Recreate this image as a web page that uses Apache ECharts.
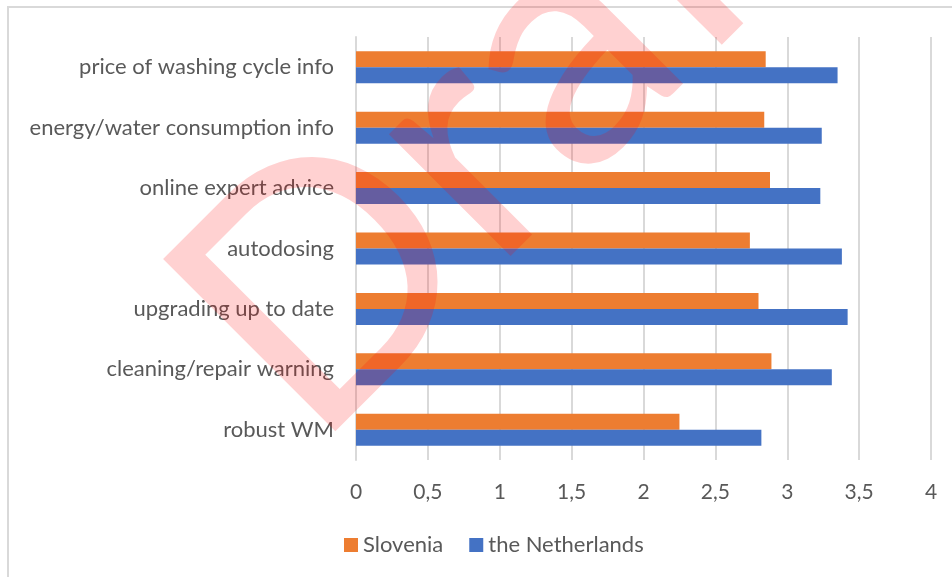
<!DOCTYPE html>
<html>
<head>
<meta charset="utf-8">
<script src="https://cdn.jsdelivr.net/npm/echarts@6/dist/echarts.min.js"></script>
<style>
  html, body { margin: 0; padding: 0; background: #ffffff; }
  #chart { width: 952px; height: 577px; }
</style>
</head>
<body>
<div id="chart"></div>
<script>
// Categories listed bottom to top (category axis runs upward)
const categories = [
  'robust WM',
  'cleaning/repair warning',
  'upgrading up to date',
  'autodosing',
  'online expert advice',
  'energy/water consumption info',
  'price of washing cycle info'
];
const slovenia = [2.25, 2.89, 2.80, 2.74, 2.88, 2.84, 2.85];
const netherlands = [2.82, 3.31, 3.42, 3.38, 3.23, 3.24, 3.35];
const xTicks = [0, 0.5, 1, 1.5, 2, 2.5, 3, 3.5, 4];

const FONT = 'Lato, "Open Sans", sans-serif';
const TEXT_COLOR = '#595959';

const chart = echarts.init(document.getElementById('chart'), null, { renderer: 'canvas' });

chart.setOption({
  animation: false,
  backgroundColor: '#ffffff',
  textStyle: { fontFamily: FONT },
  grid: { left: 356, right: 21, top: 37, bottom: 117, containLabel: false },
  legend: {
    data: ['Slovenia', 'the Netherlands'],
    left: 339,
    top: 529,
    icon: 'rect',
    itemWidth: 14,
    itemHeight: 14,
    itemGap: 26,
    textStyle: { fontFamily: FONT, fontSize: 22, color: TEXT_COLOR }
  },
  xAxis: {
    type: 'value',
    min: xTicks[0],
    max: xTicks[xTicks.length - 1],
    interval: 0.5,
    axisLine: { show: false },
    axisTick: { show: false },
    splitLine: { show: true, lineStyle: { color: '#d9d9d9', width: 2 } },
    axisLabel: {
      margin: 22,
      fontFamily: FONT,
      fontSize: 21,
      color: TEXT_COLOR,
      formatter: v => String(v).replace('.', ',')
    }
  },
  yAxis: {
    type: 'category',
    data: categories,
    axisLine: { show: true, lineStyle: { color: '#d9d9d9', width: 2 } },
    axisTick: { show: false },
    axisLabel: { margin: 22, fontFamily: FONT, fontSize: 22, color: TEXT_COLOR }
  },
  series: [
    {
      name: 'Slovenia',
      type: 'bar',
      data: slovenia,
      barWidth: 16,
      barGap: '0%',
      itemStyle: { color: '#ED7D31' }
    },
    {
      name: 'the Netherlands',
      type: 'bar',
      data: netherlands,
      barWidth: 16,
      barGap: '0%',
      itemStyle: { color: '#4472C4' }
    }
  ],
  graphic: [
    {
      type: 'rect',
      silent: true,
      shape: { x: 8, y: 7, width: 980, height: 620 },
      style: { fill: 'none', stroke: '#d9d9d9', lineWidth: 2 }
    },
    {
      // diagonal "Draft" stamp laid over the plot
      type: 'text',
      silent: true,
      z: 100,
      x: 356,
      y: 496,
      rotation: 45 * Math.PI / 180,
      style: {
        text: 'Draft',
        font: '340px Lato, sans-serif',
        fill: 'rgba(255, 0, 0, 0.18)',
        align: 'left',
        verticalAlign: 'bottom'
      }
    }
  ]
});
</script>
</body>
</html>
